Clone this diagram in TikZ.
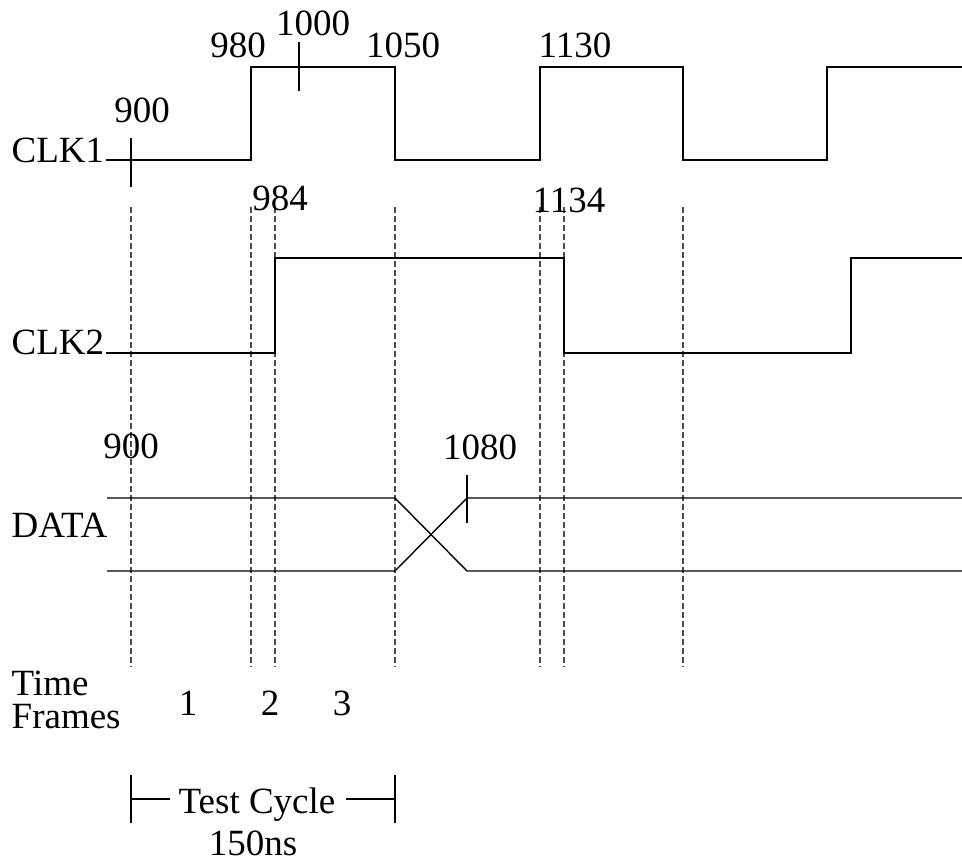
\documentclass[tikz,border=0pt]{standalone}
\usepackage{fontspec}
\setmainfont{Liberation Serif}
\begin{document}
\begin{tikzpicture}[x=1pt, y=-1pt, line width=1.4pt, every node/.style={inner sep=0pt, anchor=base, font=\fontsize{37}{40}\selectfont}]
	\useasboundingbox (0,0) rectangle (962,863);
	
	% 时间分隔虚线
	\foreach \t in {131,251,275,395,540,564,683}
		\draw[dash pattern=on 6pt off 3pt, gray!60!black, line width=1.1pt] (\t,207) -- (\t,667);
	
	% CLK1
	\node[anchor=base west] (clka) at (11,162) {CLK1};
	\coordinate (sa) at (106,160);
	\draw (sa) -- (251,160) -- (251,67) -- (395,67) -- (395,160) -- (540,160) -- (540,67) -- (683,67) -- (683,160) -- (827,160) -- (827,67) -- (962,67);
	\draw (131,138) -- (131,187);
	\draw (299,42) -- (299,91);
	\node (ta) at (142,122) {900};
	\node (tb) at (238,57) {980};
	\node (tc) at (313,35) {1000};
	\node (td) at (403,57) {1050};
	\node (te) at (575,57) {1130};
	
	% CLK2
	\node[anchor=base west] (clkb) at (11,354) {CLK2};
	\coordinate (sb) at (106,353);
	\draw (sb) -- (275,353) -- (275,258) -- (564,258) -- (564,353) -- (851,353) -- (851,258) -- (962,258);
	\node (tf) at (280,210) {984};
	\node (tg) at (569,212) {1134};
	
	% DATA
	\node[anchor=base west] (data) at (11,537) {DATA};
	\draw (107,498) -- (395,498) -- (467,571) -- (962,571);
	\draw (107,571) -- (395,571) -- (467,498) -- (962,498);
	\draw (467,475) -- (467,523);
	\node (th) at (131,458) {900};
	\node (ti) at (480,459) {1080};
	
	% 时间帧
	\node[anchor=base west, align=left, font=\fontsize{37}{33}\selectfont] (frames) at (11,728) {Time\\Frames};
	\node (fa) at (188,715) {1};
	\node (fb) at (270,715) {2};
	\node (fc) at (342,715) {3};
	
	% 测试周期
	\node (cycle) at (257,813) {Test Cycle};
	\node[text depth=0pt] (period) at (253,855) {150ns};
	\draw (131,775) -- (131,823);
	\draw (395,775) -- (395,823);
	\draw (131,799) -- ([xshift=-8pt]cycle.west |- 131,799);
	\draw ([xshift=10pt]cycle.east |- 395,799) -- (395,799);
\end{tikzpicture}
\end{document}
